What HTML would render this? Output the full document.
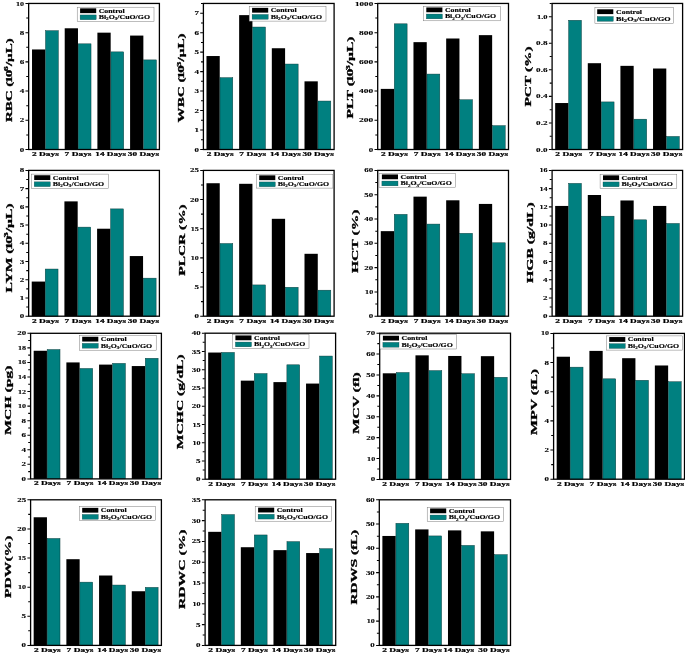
<!DOCTYPE html>
<html><head><meta charset="utf-8"><title>Hematology bar charts</title>
<style>
html,body{margin:0;padding:0;background:#fff;}
body{width:685px;height:654px;overflow:hidden;font-family:"Liberation Serif",serif;}
svg{display:block;}
svg text{font-family:"Liberation Serif",serif;font-weight:bold;fill:#000;}
</style></head><body>
<svg width="685" height="654" viewBox="0 0 685 654">
<rect width="685" height="654" fill="#fff"/>
<g>
<rect x="32.02" y="49.46" width="13.27" height="100.04" fill="#000"/>
<rect x="45.51" y="30.69" width="12.83" height="118.81" fill="#008080" stroke="#073535" stroke-width="0.45"/>
<rect x="64.71" y="28.28" width="13.27" height="121.22" fill="#000"/>
<rect x="78.2" y="43.83" width="12.83" height="105.67" fill="#008080" stroke="#073535" stroke-width="0.45"/>
<rect x="97.4" y="32.66" width="13.27" height="116.84" fill="#000"/>
<rect x="110.89" y="51.87" width="12.83" height="97.63" fill="#008080" stroke="#073535" stroke-width="0.45"/>
<rect x="130.09" y="35.58" width="13.27" height="113.92" fill="#000"/>
<rect x="143.58" y="59.9" width="12.83" height="89.6" fill="#008080" stroke="#073535" stroke-width="0.45"/>
<rect x="28.65" y="3.45" width="130.75" height="146.05" fill="none" stroke="#000" stroke-width="1.3"/>
<path d="M28.35 149.5h-2.9M28.35 134.9h-2.1M28.35 120.29h-2.9M28.35 105.69h-2.1M28.35 91.08h-2.9M28.35 76.47h-2.1M28.35 61.87h-2.9M28.35 47.27h-2.1M28.35 32.66h-2.9M28.35 18.05h-2.1M28.35 3.45h-2.9" stroke="#000" stroke-width="1.05" fill="none"/>
<rect x="77.2" y="7.2" width="76.8" height="14.3" fill="#fff" stroke="#6e6e6e" stroke-width="0.45"/>
<rect x="80.1" y="8.35" width="16.1" height="4.8" fill="#000"/>
<rect x="80.1" y="14.95" width="16.1" height="4.8" fill="#008080" stroke="#0b3b3b" stroke-width="0.3"/>
</g>
<g>
<rect x="206.47" y="56.03" width="13.27" height="93.47" fill="#000"/>
<rect x="219.96" y="77.67" width="12.83" height="71.83" fill="#008080" stroke="#073535" stroke-width="0.45"/>
<rect x="239.15" y="15.13" width="13.27" height="134.37" fill="#000"/>
<rect x="252.63" y="27.04" width="12.83" height="122.46" fill="#008080" stroke="#073535" stroke-width="0.45"/>
<rect x="271.82" y="48.24" width="13.27" height="101.26" fill="#000"/>
<rect x="285.31" y="64.04" width="12.83" height="85.46" fill="#008080" stroke="#073535" stroke-width="0.45"/>
<rect x="304.5" y="81.34" width="13.27" height="68.16" fill="#000"/>
<rect x="317.98" y="101.04" width="12.83" height="48.46" fill="#008080" stroke="#073535" stroke-width="0.45"/>
<rect x="203.4" y="3.45" width="130.7" height="146.05" fill="none" stroke="#000" stroke-width="1.3"/>
<path d="M203.1 149.5h-2.9M203.1 139.76h-2.1M203.1 130.03h-2.9M203.1 120.29h-2.1M203.1 110.55h-2.9M203.1 100.82h-2.1M203.1 91.08h-2.9M203.1 81.34h-2.1M203.1 71.61h-2.9M203.1 61.87h-2.1M203.1 52.13h-2.9M203.1 42.4h-2.1M203.1 32.66h-2.9M203.1 22.92h-2.1M203.1 13.19h-2.9M203.1 3.45h-2.1" stroke="#000" stroke-width="1.05" fill="none"/>
<rect x="249.2" y="6.7" width="76.8" height="14.4" fill="#fff" stroke="#6e6e6e" stroke-width="0.45"/>
<rect x="252.1" y="7.85" width="16.1" height="4.8" fill="#000"/>
<rect x="252.1" y="14.45" width="16.1" height="4.8" fill="#008080" stroke="#0b3b3b" stroke-width="0.3"/>
</g>
<g>
<rect x="380.77" y="88.89" width="13.28" height="60.61" fill="#000"/>
<rect x="394.27" y="23.82" width="12.84" height="125.68" fill="#008080" stroke="#073535" stroke-width="0.45"/>
<rect x="413.47" y="42.15" width="13.28" height="107.35" fill="#000"/>
<rect x="426.97" y="74.07" width="12.84" height="75.43" fill="#008080" stroke="#073535" stroke-width="0.45"/>
<rect x="446.17" y="38.5" width="13.28" height="111" fill="#000"/>
<rect x="459.67" y="99.77" width="12.84" height="49.73" fill="#008080" stroke="#073535" stroke-width="0.45"/>
<rect x="478.87" y="35.14" width="13.28" height="114.36" fill="#000"/>
<rect x="492.37" y="125.62" width="12.84" height="23.88" fill="#008080" stroke="#073535" stroke-width="0.45"/>
<rect x="377.7" y="3.45" width="130.8" height="146.05" fill="none" stroke="#000" stroke-width="1.3"/>
<path d="M377.4 149.5h-2.9M377.4 134.9h-2.1M377.4 120.29h-2.9M377.4 105.69h-2.1M377.4 91.08h-2.9M377.4 76.47h-2.1M377.4 61.87h-2.9M377.4 47.27h-2.1M377.4 32.66h-2.9M377.4 18.05h-2.1M377.4 3.45h-2.9" stroke="#000" stroke-width="1.05" fill="none"/>
<rect x="423.4" y="6.3" width="77" height="14.5" fill="#fff" stroke="#6e6e6e" stroke-width="0.45"/>
<rect x="426.3" y="7.45" width="16.1" height="4.8" fill="#000"/>
<rect x="426.3" y="14.05" width="16.1" height="4.8" fill="#008080" stroke="#0b3b3b" stroke-width="0.3"/>
</g>
<g>
<rect x="555.17" y="103.03" width="13.25" height="46.47" fill="#000"/>
<rect x="568.63" y="20.27" width="12.81" height="129.23" fill="#008080" stroke="#073535" stroke-width="0.45"/>
<rect x="587.79" y="63.2" width="13.25" height="86.3" fill="#000"/>
<rect x="601.26" y="101.92" width="12.81" height="47.58" fill="#008080" stroke="#073535" stroke-width="0.45"/>
<rect x="620.42" y="65.85" width="13.25" height="83.65" fill="#000"/>
<rect x="633.88" y="119.18" width="12.81" height="30.32" fill="#008080" stroke="#073535" stroke-width="0.45"/>
<rect x="653.04" y="68.51" width="13.25" height="80.99" fill="#000"/>
<rect x="666.51" y="136.44" width="12.81" height="13.06" fill="#008080" stroke="#073535" stroke-width="0.45"/>
<rect x="552.1" y="3.45" width="130.5" height="146.05" fill="none" stroke="#000" stroke-width="1.3"/>
<path d="M551.8 149.5h-2.9M551.8 136.22h-2.1M551.8 122.95h-2.9M551.8 109.67h-2.1M551.8 96.39h-2.9M551.8 83.11h-2.1M551.8 69.84h-2.9M551.8 56.56h-2.1M551.8 43.28h-2.9M551.8 30h-2.1M551.8 16.73h-2.9M551.8 3.45h-2.1" stroke="#000" stroke-width="1.05" fill="none"/>
<rect x="594.9" y="7.6" width="78.7" height="15.7" fill="#fff" stroke="#6e6e6e" stroke-width="0.45"/>
<rect x="597.2" y="9.3" width="16.1" height="4.8" fill="#000"/>
<rect x="597.2" y="16.5" width="16.1" height="4.8" fill="#008080" stroke="#0b3b3b" stroke-width="0.3"/>
</g>
<g>
<rect x="31.72" y="281.57" width="13.27" height="34.63" fill="#000"/>
<rect x="45.21" y="269.04" width="12.83" height="47.16" fill="#008080" stroke="#073535" stroke-width="0.45"/>
<rect x="64.41" y="201.38" width="13.27" height="114.82" fill="#000"/>
<rect x="77.9" y="227.12" width="12.83" height="89.08" fill="#008080" stroke="#073535" stroke-width="0.45"/>
<rect x="97.1" y="228.72" width="13.27" height="87.48" fill="#000"/>
<rect x="110.59" y="208.89" width="12.83" height="107.31" fill="#008080" stroke="#073535" stroke-width="0.45"/>
<rect x="129.79" y="256.06" width="13.27" height="60.14" fill="#000"/>
<rect x="143.28" y="278.15" width="12.83" height="38.05" fill="#008080" stroke="#073535" stroke-width="0.45"/>
<rect x="28.65" y="170.4" width="130.75" height="145.8" fill="none" stroke="#000" stroke-width="1.3"/>
<path d="M28.35 316.2h-2.9M28.35 307.09h-2.1M28.35 297.97h-2.9M28.35 288.86h-2.1M28.35 279.75h-2.9M28.35 270.64h-2.1M28.35 261.52h-2.9M28.35 252.41h-2.1M28.35 243.3h-2.9M28.35 234.19h-2.1M28.35 225.07h-2.9M28.35 215.96h-2.1M28.35 206.85h-2.9M28.35 197.74h-2.1M28.35 188.62h-2.9M28.35 179.51h-2.1M28.35 170.4h-2.9" stroke="#000" stroke-width="1.05" fill="none"/>
<rect x="31.3" y="174.1" width="77" height="14.2" fill="#fff" stroke="#6e6e6e" stroke-width="0.45"/>
<rect x="34.2" y="175.25" width="16.1" height="4.8" fill="#000"/>
<rect x="34.2" y="181.85" width="16.1" height="4.8" fill="#008080" stroke="#0b3b3b" stroke-width="0.3"/>
</g>
<g>
<rect x="206.47" y="183.23" width="13.27" height="132.97" fill="#000"/>
<rect x="219.96" y="243.52" width="12.83" height="72.68" fill="#008080" stroke="#073535" stroke-width="0.45"/>
<rect x="239.15" y="183.81" width="13.27" height="132.39" fill="#000"/>
<rect x="252.63" y="284.93" width="12.83" height="31.27" fill="#008080" stroke="#073535" stroke-width="0.45"/>
<rect x="271.82" y="218.81" width="13.27" height="97.39" fill="#000"/>
<rect x="285.31" y="287.26" width="12.83" height="28.94" fill="#008080" stroke="#073535" stroke-width="0.45"/>
<rect x="304.5" y="253.8" width="13.27" height="62.4" fill="#000"/>
<rect x="317.98" y="290.18" width="12.83" height="26.02" fill="#008080" stroke="#073535" stroke-width="0.45"/>
<rect x="203.4" y="170.4" width="130.7" height="145.8" fill="none" stroke="#000" stroke-width="1.3"/>
<path d="M203.1 316.2h-2.9M203.1 301.62h-2.1M203.1 287.04h-2.9M203.1 272.46h-2.1M203.1 257.88h-2.9M203.1 243.3h-2.1M203.1 228.72h-2.9M203.1 214.14h-2.1M203.1 199.56h-2.9M203.1 184.98h-2.1M203.1 170.4h-2.9" stroke="#000" stroke-width="1.05" fill="none"/>
<rect x="256.3" y="174.2" width="76.6" height="13.9" fill="#fff" stroke="#6e6e6e" stroke-width="0.45"/>
<rect x="259.2" y="175.35" width="16.1" height="4.8" fill="#000"/>
<rect x="259.2" y="181.95" width="16.1" height="4.8" fill="#008080" stroke="#0b3b3b" stroke-width="0.3"/>
</g>
<g>
<rect x="380.77" y="231.15" width="13.28" height="85.05" fill="#000"/>
<rect x="394.27" y="214.36" width="12.84" height="101.84" fill="#008080" stroke="#073535" stroke-width="0.45"/>
<rect x="413.47" y="196.64" width="13.28" height="119.56" fill="#000"/>
<rect x="426.97" y="224.08" width="12.84" height="92.12" fill="#008080" stroke="#073535" stroke-width="0.45"/>
<rect x="446.17" y="200.29" width="13.28" height="115.91" fill="#000"/>
<rect x="459.67" y="233.31" width="12.84" height="82.89" fill="#008080" stroke="#073535" stroke-width="0.45"/>
<rect x="478.87" y="203.93" width="13.28" height="112.27" fill="#000"/>
<rect x="492.37" y="242.79" width="12.84" height="73.41" fill="#008080" stroke="#073535" stroke-width="0.45"/>
<rect x="377.7" y="170.4" width="130.8" height="145.8" fill="none" stroke="#000" stroke-width="1.3"/>
<path d="M377.4 316.2h-2.9M377.4 304.05h-2.1M377.4 291.9h-2.9M377.4 279.75h-2.1M377.4 267.6h-2.9M377.4 255.45h-2.1M377.4 243.3h-2.9M377.4 231.15h-2.1M377.4 219h-2.9M377.4 206.85h-2.1M377.4 194.7h-2.9M377.4 182.55h-2.1M377.4 170.4h-2.9" stroke="#000" stroke-width="1.05" fill="none"/>
<rect x="379" y="173.3" width="76.3" height="13.9" fill="#fff" stroke="#6e6e6e" stroke-width="0.45"/>
<rect x="381.9" y="174.45" width="16.1" height="4.8" fill="#000"/>
<rect x="381.9" y="181.05" width="16.1" height="4.8" fill="#008080" stroke="#0b3b3b" stroke-width="0.3"/>
</g>
<g>
<rect x="555.17" y="205.94" width="13.25" height="110.26" fill="#000"/>
<rect x="568.63" y="183.38" width="12.81" height="132.82" fill="#008080" stroke="#073535" stroke-width="0.45"/>
<rect x="587.79" y="195" width="13.25" height="121.2" fill="#000"/>
<rect x="601.26" y="216.18" width="12.81" height="100.02" fill="#008080" stroke="#073535" stroke-width="0.45"/>
<rect x="620.42" y="200.47" width="13.25" height="115.73" fill="#000"/>
<rect x="633.88" y="219.83" width="12.81" height="96.37" fill="#008080" stroke="#073535" stroke-width="0.45"/>
<rect x="653.04" y="205.94" width="13.25" height="110.26" fill="#000"/>
<rect x="666.51" y="223.47" width="12.81" height="92.73" fill="#008080" stroke="#073535" stroke-width="0.45"/>
<rect x="552.1" y="170.4" width="130.5" height="145.8" fill="none" stroke="#000" stroke-width="1.3"/>
<path d="M551.8 316.2h-2.9M551.8 307.09h-2.1M551.8 297.97h-2.9M551.8 288.86h-2.1M551.8 279.75h-2.9M551.8 270.64h-2.1M551.8 261.52h-2.9M551.8 252.41h-2.1M551.8 243.3h-2.9M551.8 234.19h-2.1M551.8 225.07h-2.9M551.8 215.96h-2.1M551.8 206.85h-2.9M551.8 197.74h-2.1M551.8 188.62h-2.9M551.8 179.51h-2.1M551.8 170.4h-2.9" stroke="#000" stroke-width="1.05" fill="none"/>
<rect x="600.1" y="174.2" width="76.7" height="14.2" fill="#fff" stroke="#6e6e6e" stroke-width="0.45"/>
<rect x="603" y="175.35" width="16.1" height="4.8" fill="#000"/>
<rect x="603" y="181.95" width="16.1" height="4.8" fill="#008080" stroke="#0b3b3b" stroke-width="0.3"/>
</g>
<g>
<rect x="33.67" y="350.77" width="13.28" height="128.13" fill="#000"/>
<rect x="47.17" y="349.54" width="12.84" height="129.36" fill="#008080" stroke="#073535" stroke-width="0.45"/>
<rect x="66.37" y="362.42" width="13.28" height="116.48" fill="#000"/>
<rect x="79.87" y="368.46" width="12.84" height="110.44" fill="#008080" stroke="#073535" stroke-width="0.45"/>
<rect x="99.07" y="364.6" width="13.28" height="114.3" fill="#000"/>
<rect x="112.57" y="363.37" width="12.84" height="115.53" fill="#008080" stroke="#073535" stroke-width="0.45"/>
<rect x="131.77" y="366.06" width="13.28" height="112.84" fill="#000"/>
<rect x="145.27" y="358.27" width="12.84" height="120.63" fill="#008080" stroke="#073535" stroke-width="0.45"/>
<rect x="30.6" y="333.3" width="130.8" height="145.6" fill="none" stroke="#000" stroke-width="1.3"/>
<path d="M30.3 478.9h-2.9M30.3 471.62h-2.1M30.3 464.34h-2.9M30.3 457.06h-2.1M30.3 449.78h-2.9M30.3 442.5h-2.1M30.3 435.22h-2.9M30.3 427.94h-2.1M30.3 420.66h-2.9M30.3 413.38h-2.1M30.3 406.1h-2.9M30.3 398.82h-2.1M30.3 391.54h-2.9M30.3 384.26h-2.1M30.3 376.98h-2.9M30.3 369.7h-2.1M30.3 362.42h-2.9M30.3 355.14h-2.1M30.3 347.86h-2.9M30.3 340.58h-2.1M30.3 333.3h-2.9" stroke="#000" stroke-width="1.05" fill="none"/>
<rect x="79.3" y="335.6" width="76.9" height="14.6" fill="#fff" stroke="#6e6e6e" stroke-width="0.45"/>
<rect x="82.2" y="336.75" width="16.1" height="4.8" fill="#000"/>
<rect x="82.2" y="343.35" width="16.1" height="4.8" fill="#008080" stroke="#0b3b3b" stroke-width="0.3"/>
</g>
<g>
<rect x="208.17" y="352.54" width="13.25" height="126.66" fill="#000"/>
<rect x="221.63" y="352.4" width="12.81" height="126.8" fill="#008080" stroke="#073535" stroke-width="0.45"/>
<rect x="240.79" y="380.65" width="13.25" height="98.55" fill="#000"/>
<rect x="254.26" y="373.57" width="12.81" height="105.63" fill="#008080" stroke="#073535" stroke-width="0.45"/>
<rect x="273.42" y="382.11" width="13.25" height="97.09" fill="#000"/>
<rect x="286.88" y="364.81" width="12.81" height="114.39" fill="#008080" stroke="#073535" stroke-width="0.45"/>
<rect x="306.04" y="383.57" width="13.25" height="95.63" fill="#000"/>
<rect x="319.51" y="356.05" width="12.81" height="123.15" fill="#008080" stroke="#073535" stroke-width="0.45"/>
<rect x="205.1" y="333.2" width="130.5" height="146" fill="none" stroke="#000" stroke-width="1.3"/>
<path d="M204.8 479.2h-2.9M204.8 470.07h-2.1M204.8 460.95h-2.9M204.8 451.82h-2.1M204.8 442.7h-2.9M204.8 433.57h-2.1M204.8 424.45h-2.9M204.8 415.32h-2.1M204.8 406.2h-2.9M204.8 397.07h-2.1M204.8 387.95h-2.9M204.8 378.82h-2.1M204.8 369.7h-2.9M204.8 360.57h-2.1M204.8 351.45h-2.9M204.8 342.32h-2.1M204.8 333.2h-2.9" stroke="#000" stroke-width="1.05" fill="none"/>
<rect x="232.5" y="334.3" width="76.5" height="14.4" fill="#fff" stroke="#6e6e6e" stroke-width="0.45"/>
<rect x="235.4" y="335.45" width="16.1" height="4.8" fill="#000"/>
<rect x="235.4" y="342.05" width="16.1" height="4.8" fill="#008080" stroke="#0b3b3b" stroke-width="0.3"/>
</g>
<g>
<rect x="382.77" y="373.3" width="13.28" height="106.1" fill="#000"/>
<rect x="396.27" y="372.48" width="12.84" height="106.92" fill="#008080" stroke="#073535" stroke-width="0.45"/>
<rect x="415.47" y="355.34" width="13.28" height="124.06" fill="#000"/>
<rect x="428.97" y="370.6" width="12.84" height="108.8" fill="#008080" stroke="#073535" stroke-width="0.45"/>
<rect x="448.17" y="355.97" width="13.28" height="123.43" fill="#000"/>
<rect x="461.67" y="373.73" width="12.84" height="105.67" fill="#008080" stroke="#073535" stroke-width="0.45"/>
<rect x="480.87" y="356.17" width="13.28" height="123.23" fill="#000"/>
<rect x="494.37" y="377.28" width="12.84" height="102.12" fill="#008080" stroke="#073535" stroke-width="0.45"/>
<rect x="379.7" y="333.2" width="130.8" height="146.2" fill="none" stroke="#000" stroke-width="1.3"/>
<path d="M379.4 479.4h-2.9M379.4 468.96h-2.1M379.4 458.51h-2.9M379.4 448.07h-2.1M379.4 437.63h-2.9M379.4 427.19h-2.1M379.4 416.74h-2.9M379.4 406.3h-2.1M379.4 395.86h-2.9M379.4 385.41h-2.1M379.4 374.97h-2.9M379.4 364.53h-2.1M379.4 354.09h-2.9M379.4 343.64h-2.1M379.4 333.2h-2.9" stroke="#000" stroke-width="1.05" fill="none"/>
<rect x="380" y="334.6" width="76.7" height="14.4" fill="#fff" stroke="#6e6e6e" stroke-width="0.45"/>
<rect x="382.9" y="335.75" width="16.1" height="4.8" fill="#000"/>
<rect x="382.9" y="342.35" width="16.1" height="4.8" fill="#008080" stroke="#0b3b3b" stroke-width="0.3"/>
</g>
<g>
<rect x="556.68" y="356.73" width="13.29" height="122.47" fill="#000"/>
<rect x="570.18" y="367.15" width="12.85" height="112.05" fill="#008080" stroke="#073535" stroke-width="0.45"/>
<rect x="589.4" y="350.9" width="13.29" height="128.3" fill="#000"/>
<rect x="602.91" y="378.82" width="12.85" height="100.38" fill="#008080" stroke="#073535" stroke-width="0.45"/>
<rect x="622.13" y="358.19" width="13.29" height="121.01" fill="#000"/>
<rect x="635.63" y="380.28" width="12.85" height="98.92" fill="#008080" stroke="#073535" stroke-width="0.45"/>
<rect x="654.85" y="365.48" width="13.29" height="113.72" fill="#000"/>
<rect x="668.36" y="381.73" width="12.85" height="97.47" fill="#008080" stroke="#073535" stroke-width="0.45"/>
<rect x="553.6" y="333.4" width="130.9" height="145.8" fill="none" stroke="#000" stroke-width="1.3"/>
<path d="M553.3 479.2h-2.9M553.3 464.62h-2.1M553.3 450.04h-2.9M553.3 435.46h-2.1M553.3 420.88h-2.9M553.3 406.3h-2.1M553.3 391.72h-2.9M553.3 377.14h-2.1M553.3 362.56h-2.9M553.3 347.98h-2.1M553.3 333.4h-2.9" stroke="#000" stroke-width="1.05" fill="none"/>
<rect x="606.3" y="335.9" width="76.2" height="14.2" fill="#fff" stroke="#6e6e6e" stroke-width="0.45"/>
<rect x="609.2" y="337.05" width="16.1" height="4.8" fill="#000"/>
<rect x="609.2" y="343.65" width="16.1" height="4.8" fill="#008080" stroke="#0b3b3b" stroke-width="0.3"/>
</g>
<g>
<rect x="33.67" y="517.27" width="13.28" height="128.13" fill="#000"/>
<rect x="47.17" y="538.46" width="12.84" height="106.94" fill="#008080" stroke="#073535" stroke-width="0.45"/>
<rect x="66.37" y="559.2" width="13.28" height="86.2" fill="#000"/>
<rect x="79.87" y="582.14" width="12.84" height="63.26" fill="#008080" stroke="#073535" stroke-width="0.45"/>
<rect x="99.07" y="575.51" width="13.28" height="69.89" fill="#000"/>
<rect x="112.57" y="585.05" width="12.84" height="60.35" fill="#008080" stroke="#073535" stroke-width="0.45"/>
<rect x="131.77" y="591.24" width="13.28" height="54.16" fill="#000"/>
<rect x="145.27" y="587.38" width="12.84" height="58.02" fill="#008080" stroke="#073535" stroke-width="0.45"/>
<rect x="30.6" y="499.8" width="130.8" height="145.6" fill="none" stroke="#000" stroke-width="1.3"/>
<path d="M30.3 645.4h-2.9M30.3 630.84h-2.1M30.3 616.28h-2.9M30.3 601.72h-2.1M30.3 587.16h-2.9M30.3 572.6h-2.1M30.3 558.04h-2.9M30.3 543.48h-2.1M30.3 528.92h-2.9M30.3 514.36h-2.1M30.3 499.8h-2.9" stroke="#000" stroke-width="1.05" fill="none"/>
<rect x="79.3" y="506.7" width="76.3" height="13.8" fill="#fff" stroke="#6e6e6e" stroke-width="0.45"/>
<rect x="82.2" y="507.85" width="16.1" height="4.8" fill="#000"/>
<rect x="82.2" y="514.45" width="16.1" height="4.8" fill="#008080" stroke="#0b3b3b" stroke-width="0.3"/>
</g>
<g>
<rect x="208.17" y="531.83" width="13.26" height="113.57" fill="#000"/>
<rect x="221.64" y="514.58" width="12.82" height="130.82" fill="#008080" stroke="#073535" stroke-width="0.45"/>
<rect x="240.82" y="547.22" width="13.26" height="98.18" fill="#000"/>
<rect x="254.29" y="534.96" width="12.82" height="110.44" fill="#008080" stroke="#073535" stroke-width="0.45"/>
<rect x="273.47" y="550.14" width="13.26" height="95.26" fill="#000"/>
<rect x="286.95" y="541.62" width="12.82" height="103.78" fill="#008080" stroke="#073535" stroke-width="0.45"/>
<rect x="306.12" y="553.05" width="13.26" height="92.35" fill="#000"/>
<rect x="319.6" y="548.69" width="12.82" height="96.71" fill="#008080" stroke="#073535" stroke-width="0.45"/>
<rect x="205.1" y="499.8" width="130.6" height="145.6" fill="none" stroke="#000" stroke-width="1.3"/>
<path d="M204.8 645.4h-2.9M204.8 635h-2.1M204.8 624.6h-2.9M204.8 614.2h-2.1M204.8 603.8h-2.9M204.8 593.4h-2.1M204.8 583h-2.9M204.8 572.6h-2.1M204.8 562.2h-2.9M204.8 551.8h-2.1M204.8 541.4h-2.9M204.8 531h-2.1M204.8 520.6h-2.9M204.8 510.2h-2.1M204.8 499.8h-2.9" stroke="#000" stroke-width="1.05" fill="none"/>
<rect x="255.2" y="506.5" width="76.4" height="14.7" fill="#fff" stroke="#6e6e6e" stroke-width="0.45"/>
<rect x="258.1" y="507.65" width="16.1" height="4.8" fill="#000"/>
<rect x="258.1" y="514.25" width="16.1" height="4.8" fill="#008080" stroke="#0b3b3b" stroke-width="0.3"/>
</g>
<g>
<rect x="382.38" y="535.96" width="13.32" height="109.44" fill="#000"/>
<rect x="395.92" y="523.32" width="12.88" height="122.08" fill="#008080" stroke="#073535" stroke-width="0.45"/>
<rect x="415.18" y="529.41" width="13.32" height="115.99" fill="#000"/>
<rect x="428.72" y="535.93" width="12.88" height="109.47" fill="#008080" stroke="#073535" stroke-width="0.45"/>
<rect x="447.98" y="530.38" width="13.32" height="115.02" fill="#000"/>
<rect x="461.52" y="545.4" width="12.88" height="100" fill="#008080" stroke="#073535" stroke-width="0.45"/>
<rect x="480.78" y="531.35" width="13.32" height="114.05" fill="#000"/>
<rect x="494.32" y="554.62" width="12.88" height="90.78" fill="#008080" stroke="#073535" stroke-width="0.45"/>
<rect x="379.3" y="499.8" width="131.2" height="145.6" fill="none" stroke="#000" stroke-width="1.3"/>
<path d="M379 645.4h-2.9M379 633.27h-2.1M379 621.13h-2.9M379 609h-2.1M379 596.87h-2.9M379 584.73h-2.1M379 572.6h-2.9M379 560.47h-2.1M379 548.33h-2.9M379 536.2h-2.1M379 524.07h-2.9M379 511.93h-2.1M379 499.8h-2.9" stroke="#000" stroke-width="1.05" fill="none"/>
<rect x="427.2" y="507.3" width="76.2" height="14.4" fill="#fff" stroke="#6e6e6e" stroke-width="0.45"/>
<rect x="430.1" y="508.45" width="16.1" height="4.8" fill="#000"/>
<rect x="430.1" y="515.05" width="16.1" height="4.8" fill="#008080" stroke="#0b3b3b" stroke-width="0.3"/>
</g>
<g opacity="0.999" stroke="#000" stroke-width="0.22" stroke-linejoin="round">
<text x="24.15" y="151.55" font-size="5.8" text-anchor="end" textLength="4.5" lengthAdjust="spacingAndGlyphs" stroke-width="0.12">0</text>
<text x="24.15" y="122.34" font-size="5.8" text-anchor="end" textLength="4.5" lengthAdjust="spacingAndGlyphs" stroke-width="0.12">2</text>
<text x="24.15" y="93.13" font-size="5.8" text-anchor="end" textLength="4.5" lengthAdjust="spacingAndGlyphs" stroke-width="0.12">4</text>
<text x="24.15" y="63.92" font-size="5.8" text-anchor="end" textLength="4.5" lengthAdjust="spacingAndGlyphs" stroke-width="0.12">6</text>
<text x="24.15" y="34.71" font-size="5.8" text-anchor="end" textLength="4.5" lengthAdjust="spacingAndGlyphs" stroke-width="0.12">8</text>
<text x="24.15" y="5.5" font-size="5.8" text-anchor="end" textLength="8.1" lengthAdjust="spacingAndGlyphs" stroke-width="0.12">10</text>
<text x="45.39" y="156" font-size="5.9" text-anchor="middle" textLength="26.9" lengthAdjust="spacingAndGlyphs">2 Days</text>
<text x="78.08" y="156" font-size="5.9" text-anchor="middle" textLength="26.9" lengthAdjust="spacingAndGlyphs">7 Days</text>
<text x="110.77" y="156" font-size="5.9" text-anchor="middle" textLength="30.9" lengthAdjust="spacingAndGlyphs">14 Days</text>
<text x="143.46" y="156" font-size="5.9" text-anchor="middle" textLength="31.4" lengthAdjust="spacingAndGlyphs">30 Days</text>
<text x="98.7" y="12.75" font-size="5.2" text-anchor="start" textLength="25.9" lengthAdjust="spacingAndGlyphs" stroke-width="0.15">Control</text>
<text x="98.7" y="19.35" font-size="5.2" text-anchor="start" textLength="51.3" lengthAdjust="spacingAndGlyphs" stroke-width="0.15">Bi<tspan font-size="3.4" dy="1.1">2</tspan><tspan dy="-1.1">O</tspan><tspan font-size="3.4" dy="1.1">3</tspan><tspan dy="-1.1">/CuO/GO</tspan></text>
<text x="0" y="0" font-size="9.2" text-anchor="middle" textLength="83.83" lengthAdjust="spacingAndGlyphs" transform="translate(11.7,80.2) rotate(-90)" stroke-width="0.32">RBC <tspan letter-spacing="-0.9">(10</tspan><tspan font-size="6.2" dy="-3.7">6</tspan><tspan dy="3.7">/µL)</tspan></text>
<text x="198.9" y="151.55" font-size="5.8" text-anchor="end" textLength="4.5" lengthAdjust="spacingAndGlyphs" stroke-width="0.12">0</text>
<text x="198.9" y="132.08" font-size="5.8" text-anchor="end" textLength="4.5" lengthAdjust="spacingAndGlyphs" stroke-width="0.12">1</text>
<text x="198.9" y="112.6" font-size="5.8" text-anchor="end" textLength="4.5" lengthAdjust="spacingAndGlyphs" stroke-width="0.12">2</text>
<text x="198.9" y="93.13" font-size="5.8" text-anchor="end" textLength="4.5" lengthAdjust="spacingAndGlyphs" stroke-width="0.12">3</text>
<text x="198.9" y="73.66" font-size="5.8" text-anchor="end" textLength="4.5" lengthAdjust="spacingAndGlyphs" stroke-width="0.12">4</text>
<text x="198.9" y="54.18" font-size="5.8" text-anchor="end" textLength="4.5" lengthAdjust="spacingAndGlyphs" stroke-width="0.12">5</text>
<text x="198.9" y="34.71" font-size="5.8" text-anchor="end" textLength="4.5" lengthAdjust="spacingAndGlyphs" stroke-width="0.12">6</text>
<text x="198.9" y="15.24" font-size="5.8" text-anchor="end" textLength="4.5" lengthAdjust="spacingAndGlyphs" stroke-width="0.12">7</text>
<text x="220.14" y="156" font-size="5.9" text-anchor="middle" textLength="26.9" lengthAdjust="spacingAndGlyphs">2 Days</text>
<text x="252.81" y="156" font-size="5.9" text-anchor="middle" textLength="26.9" lengthAdjust="spacingAndGlyphs">7 Days</text>
<text x="285.49" y="156" font-size="5.9" text-anchor="middle" textLength="30.9" lengthAdjust="spacingAndGlyphs">14 Days</text>
<text x="318.16" y="156" font-size="5.9" text-anchor="middle" textLength="31.4" lengthAdjust="spacingAndGlyphs">30 Days</text>
<text x="270.7" y="12.25" font-size="5.2" text-anchor="start" textLength="25.9" lengthAdjust="spacingAndGlyphs" stroke-width="0.15">Control</text>
<text x="270.7" y="18.85" font-size="5.2" text-anchor="start" textLength="51.3" lengthAdjust="spacingAndGlyphs" stroke-width="0.15">Bi<tspan font-size="3.4" dy="1.1">2</tspan><tspan dy="-1.1">O</tspan><tspan font-size="3.4" dy="1.1">3</tspan><tspan dy="-1.1">/CuO/GO</tspan></text>
<text x="0" y="0" font-size="9.2" text-anchor="middle" textLength="89.18" lengthAdjust="spacingAndGlyphs" transform="translate(184.2,77.95) rotate(-90)" stroke-width="0.32">WBC <tspan letter-spacing="-0.9">(10</tspan><tspan font-size="6.2" dy="-3.7">3</tspan><tspan dy="3.7">/µL)</tspan></text>
<text x="373.2" y="151.55" font-size="5.8" text-anchor="end" textLength="4.5" lengthAdjust="spacingAndGlyphs" stroke-width="0.12">0</text>
<text x="373.2" y="122.34" font-size="5.8" text-anchor="end" textLength="14.25" lengthAdjust="spacingAndGlyphs" stroke-width="0.12">200</text>
<text x="373.2" y="93.13" font-size="5.8" text-anchor="end" textLength="14.25" lengthAdjust="spacingAndGlyphs" stroke-width="0.12">400</text>
<text x="373.2" y="63.92" font-size="5.8" text-anchor="end" textLength="14.25" lengthAdjust="spacingAndGlyphs" stroke-width="0.12">600</text>
<text x="373.2" y="34.71" font-size="5.8" text-anchor="end" textLength="14.25" lengthAdjust="spacingAndGlyphs" stroke-width="0.12">800</text>
<text x="373.2" y="5.5" font-size="5.8" text-anchor="end" textLength="18.2" lengthAdjust="spacingAndGlyphs" stroke-width="0.12">1000</text>
<text x="394.45" y="156" font-size="5.9" text-anchor="middle" textLength="26.9" lengthAdjust="spacingAndGlyphs">2 Days</text>
<text x="427.15" y="156" font-size="5.9" text-anchor="middle" textLength="26.9" lengthAdjust="spacingAndGlyphs">7 Days</text>
<text x="459.85" y="156" font-size="5.9" text-anchor="middle" textLength="30.9" lengthAdjust="spacingAndGlyphs">14 Days</text>
<text x="492.55" y="156" font-size="5.9" text-anchor="middle" textLength="31.4" lengthAdjust="spacingAndGlyphs">30 Days</text>
<text x="444.9" y="11.85" font-size="5.2" text-anchor="start" textLength="25.9" lengthAdjust="spacingAndGlyphs" stroke-width="0.15">Control</text>
<text x="444.9" y="18.45" font-size="5.2" text-anchor="start" textLength="51.3" lengthAdjust="spacingAndGlyphs" stroke-width="0.15">Bi<tspan font-size="3.4" dy="1.1">2</tspan><tspan dy="-1.1">O</tspan><tspan font-size="3.4" dy="1.1">3</tspan><tspan dy="-1.1">/CuO/GO</tspan></text>
<text x="0" y="0" font-size="9.2" text-anchor="middle" textLength="81.91" lengthAdjust="spacingAndGlyphs" transform="translate(353.4,77.55) rotate(-90)" stroke-width="0.32">PLT <tspan letter-spacing="-0.9">(10</tspan><tspan font-size="6.2" dy="-3.7">3</tspan><tspan dy="3.7">/µL)</tspan></text>
<text x="547.6" y="151.55" font-size="5.8" text-anchor="end" textLength="11.5" lengthAdjust="spacingAndGlyphs" stroke-width="0.12">0.0</text>
<text x="547.6" y="125" font-size="5.8" text-anchor="end" textLength="11.5" lengthAdjust="spacingAndGlyphs" stroke-width="0.12">0.2</text>
<text x="547.6" y="98.44" font-size="5.8" text-anchor="end" textLength="11.5" lengthAdjust="spacingAndGlyphs" stroke-width="0.12">0.4</text>
<text x="547.6" y="71.89" font-size="5.8" text-anchor="end" textLength="11.5" lengthAdjust="spacingAndGlyphs" stroke-width="0.12">0.6</text>
<text x="547.6" y="45.33" font-size="5.8" text-anchor="end" textLength="11.5" lengthAdjust="spacingAndGlyphs" stroke-width="0.12">0.8</text>
<text x="547.6" y="18.78" font-size="5.8" text-anchor="end" textLength="10.7" lengthAdjust="spacingAndGlyphs" stroke-width="0.12">1.0</text>
<text x="568.81" y="156" font-size="5.9" text-anchor="middle" textLength="26.9" lengthAdjust="spacingAndGlyphs">2 Days</text>
<text x="602.44" y="156" font-size="5.9" text-anchor="middle" textLength="26.9" lengthAdjust="spacingAndGlyphs">7 Days</text>
<text x="634.06" y="156" font-size="5.9" text-anchor="middle" textLength="30.9" lengthAdjust="spacingAndGlyphs">14 Days</text>
<text x="666.69" y="156" font-size="5.9" text-anchor="middle" textLength="31.4" lengthAdjust="spacingAndGlyphs">30 Days</text>
<text x="616.1" y="13.9" font-size="5.2" text-anchor="start" textLength="25.9" lengthAdjust="spacingAndGlyphs" stroke-width="0.15">Control</text>
<text x="616.1" y="20.5" font-size="5.2" text-anchor="start" textLength="54.6" lengthAdjust="spacingAndGlyphs" stroke-width="0.15">Bi<tspan font-size="4.3" dy="1.3">2</tspan><tspan dy="-1.3">O</tspan><tspan font-size="4.3" dy="1.3">3</tspan><tspan dy="-1.3">/CuO/GO</tspan></text>
<text x="0" y="0" font-size="9.2" text-anchor="middle" textLength="60.2" lengthAdjust="spacingAndGlyphs" transform="translate(530.7,76.5) rotate(-90)" stroke-width="0.32">PCT (%)</text>
<text x="24.15" y="318.25" font-size="5.8" text-anchor="end" textLength="4.5" lengthAdjust="spacingAndGlyphs" stroke-width="0.12">0</text>
<text x="24.15" y="300.02" font-size="5.8" text-anchor="end" textLength="4.5" lengthAdjust="spacingAndGlyphs" stroke-width="0.12">1</text>
<text x="24.15" y="281.8" font-size="5.8" text-anchor="end" textLength="4.5" lengthAdjust="spacingAndGlyphs" stroke-width="0.12">2</text>
<text x="24.15" y="263.57" font-size="5.8" text-anchor="end" textLength="4.5" lengthAdjust="spacingAndGlyphs" stroke-width="0.12">3</text>
<text x="24.15" y="245.35" font-size="5.8" text-anchor="end" textLength="4.5" lengthAdjust="spacingAndGlyphs" stroke-width="0.12">4</text>
<text x="24.15" y="227.12" font-size="5.8" text-anchor="end" textLength="4.5" lengthAdjust="spacingAndGlyphs" stroke-width="0.12">5</text>
<text x="24.15" y="208.9" font-size="5.8" text-anchor="end" textLength="4.5" lengthAdjust="spacingAndGlyphs" stroke-width="0.12">6</text>
<text x="24.15" y="190.68" font-size="5.8" text-anchor="end" textLength="4.5" lengthAdjust="spacingAndGlyphs" stroke-width="0.12">7</text>
<text x="24.15" y="172.45" font-size="5.8" text-anchor="end" textLength="4.5" lengthAdjust="spacingAndGlyphs" stroke-width="0.12">8</text>
<text x="45.39" y="322.7" font-size="5.9" text-anchor="middle" textLength="26.9" lengthAdjust="spacingAndGlyphs">2 Days</text>
<text x="78.08" y="322.7" font-size="5.9" text-anchor="middle" textLength="26.9" lengthAdjust="spacingAndGlyphs">7 Days</text>
<text x="110.77" y="322.7" font-size="5.9" text-anchor="middle" textLength="30.9" lengthAdjust="spacingAndGlyphs">14 Days</text>
<text x="143.46" y="322.7" font-size="5.9" text-anchor="middle" textLength="31.4" lengthAdjust="spacingAndGlyphs">30 Days</text>
<text x="52.8" y="179.65" font-size="5.2" text-anchor="start" textLength="25.9" lengthAdjust="spacingAndGlyphs" stroke-width="0.15">Control</text>
<text x="52.8" y="186.25" font-size="5.2" text-anchor="start" textLength="51.3" lengthAdjust="spacingAndGlyphs" stroke-width="0.15">Bi<tspan font-size="3.4" dy="1.1">2</tspan><tspan dy="-1.1">O</tspan><tspan font-size="3.4" dy="1.1">3</tspan><tspan dy="-1.1">/CuO/GO</tspan></text>
<text x="0" y="0" font-size="9.2" text-anchor="middle" textLength="89.18" lengthAdjust="spacingAndGlyphs" transform="translate(12.1,247.95) rotate(-90)" stroke-width="0.32">LYM <tspan letter-spacing="-0.9">(10</tspan><tspan font-size="6.2" dy="-3.7">3</tspan><tspan dy="3.7">/µL)</tspan></text>
<text x="198.9" y="318.25" font-size="5.8" text-anchor="end" textLength="4.5" lengthAdjust="spacingAndGlyphs" stroke-width="0.12">0</text>
<text x="198.9" y="289.09" font-size="5.8" text-anchor="end" textLength="4.5" lengthAdjust="spacingAndGlyphs" stroke-width="0.12">5</text>
<text x="198.9" y="259.93" font-size="5.8" text-anchor="end" textLength="8.1" lengthAdjust="spacingAndGlyphs" stroke-width="0.12">10</text>
<text x="198.9" y="230.77" font-size="5.8" text-anchor="end" textLength="8.1" lengthAdjust="spacingAndGlyphs" stroke-width="0.12">15</text>
<text x="198.9" y="201.61" font-size="5.8" text-anchor="end" textLength="8.9" lengthAdjust="spacingAndGlyphs" stroke-width="0.12">20</text>
<text x="198.9" y="172.45" font-size="5.8" text-anchor="end" textLength="8.9" lengthAdjust="spacingAndGlyphs" stroke-width="0.12">25</text>
<text x="220.14" y="322.7" font-size="5.9" text-anchor="middle" textLength="26.9" lengthAdjust="spacingAndGlyphs">2 Days</text>
<text x="252.81" y="322.7" font-size="5.9" text-anchor="middle" textLength="26.9" lengthAdjust="spacingAndGlyphs">7 Days</text>
<text x="285.49" y="322.7" font-size="5.9" text-anchor="middle" textLength="30.9" lengthAdjust="spacingAndGlyphs">14 Days</text>
<text x="318.16" y="322.7" font-size="5.9" text-anchor="middle" textLength="31.4" lengthAdjust="spacingAndGlyphs">30 Days</text>
<text x="277.8" y="179.75" font-size="5.2" text-anchor="start" textLength="25.9" lengthAdjust="spacingAndGlyphs" stroke-width="0.15">Control</text>
<text x="277.8" y="186.35" font-size="5.2" text-anchor="start" textLength="51.3" lengthAdjust="spacingAndGlyphs" stroke-width="0.15">Bi<tspan font-size="3.4" dy="1.1">2</tspan><tspan dy="-1.1">O</tspan><tspan font-size="3.4" dy="1.1">3</tspan><tspan dy="-1.1">/CuO/GO</tspan></text>
<text x="0" y="0" font-size="9.2" text-anchor="middle" textLength="71.41" lengthAdjust="spacingAndGlyphs" transform="translate(185.3,239.95) rotate(-90)" stroke-width="0.32">PLCR (%)</text>
<text x="373.2" y="318.25" font-size="5.8" text-anchor="end" textLength="4.5" lengthAdjust="spacingAndGlyphs" stroke-width="0.12">0</text>
<text x="373.2" y="293.95" font-size="5.8" text-anchor="end" textLength="8.1" lengthAdjust="spacingAndGlyphs" stroke-width="0.12">10</text>
<text x="373.2" y="269.65" font-size="5.8" text-anchor="end" textLength="8.9" lengthAdjust="spacingAndGlyphs" stroke-width="0.12">20</text>
<text x="373.2" y="245.35" font-size="5.8" text-anchor="end" textLength="8.9" lengthAdjust="spacingAndGlyphs" stroke-width="0.12">30</text>
<text x="373.2" y="221.05" font-size="5.8" text-anchor="end" textLength="8.9" lengthAdjust="spacingAndGlyphs" stroke-width="0.12">40</text>
<text x="373.2" y="196.75" font-size="5.8" text-anchor="end" textLength="8.9" lengthAdjust="spacingAndGlyphs" stroke-width="0.12">50</text>
<text x="373.2" y="172.45" font-size="5.8" text-anchor="end" textLength="8.9" lengthAdjust="spacingAndGlyphs" stroke-width="0.12">60</text>
<text x="394.45" y="322.7" font-size="5.9" text-anchor="middle" textLength="26.9" lengthAdjust="spacingAndGlyphs">2 Days</text>
<text x="427.15" y="322.7" font-size="5.9" text-anchor="middle" textLength="26.9" lengthAdjust="spacingAndGlyphs">7 Days</text>
<text x="459.85" y="322.7" font-size="5.9" text-anchor="middle" textLength="30.9" lengthAdjust="spacingAndGlyphs">14 Days</text>
<text x="492.55" y="322.7" font-size="5.9" text-anchor="middle" textLength="31.4" lengthAdjust="spacingAndGlyphs">30 Days</text>
<text x="400.5" y="178.85" font-size="5.2" text-anchor="start" textLength="25.9" lengthAdjust="spacingAndGlyphs" stroke-width="0.15">Control</text>
<text x="400.5" y="185.45" font-size="5.2" text-anchor="start" textLength="51.3" lengthAdjust="spacingAndGlyphs" stroke-width="0.15">Bi<tspan font-size="3.4" dy="1.1">2</tspan><tspan dy="-1.1">O</tspan><tspan font-size="3.4" dy="1.1">3</tspan><tspan dy="-1.1">/CuO/GO</tspan></text>
<text x="0" y="0" font-size="9.2" text-anchor="middle" textLength="63.63" lengthAdjust="spacingAndGlyphs" transform="translate(357.8,241.3) rotate(-90)" stroke-width="0.32">HCT (%)</text>
<text x="547.6" y="318.25" font-size="5.8" text-anchor="end" textLength="4.5" lengthAdjust="spacingAndGlyphs" stroke-width="0.12">0</text>
<text x="547.6" y="300.02" font-size="5.8" text-anchor="end" textLength="4.5" lengthAdjust="spacingAndGlyphs" stroke-width="0.12">2</text>
<text x="547.6" y="281.8" font-size="5.8" text-anchor="end" textLength="4.5" lengthAdjust="spacingAndGlyphs" stroke-width="0.12">4</text>
<text x="547.6" y="263.57" font-size="5.8" text-anchor="end" textLength="4.5" lengthAdjust="spacingAndGlyphs" stroke-width="0.12">6</text>
<text x="547.6" y="245.35" font-size="5.8" text-anchor="end" textLength="4.5" lengthAdjust="spacingAndGlyphs" stroke-width="0.12">8</text>
<text x="547.6" y="227.12" font-size="5.8" text-anchor="end" textLength="8.1" lengthAdjust="spacingAndGlyphs" stroke-width="0.12">10</text>
<text x="547.6" y="208.9" font-size="5.8" text-anchor="end" textLength="8.1" lengthAdjust="spacingAndGlyphs" stroke-width="0.12">12</text>
<text x="547.6" y="190.68" font-size="5.8" text-anchor="end" textLength="8.1" lengthAdjust="spacingAndGlyphs" stroke-width="0.12">14</text>
<text x="547.6" y="172.45" font-size="5.8" text-anchor="end" textLength="8.1" lengthAdjust="spacingAndGlyphs" stroke-width="0.12">16</text>
<text x="568.81" y="322.7" font-size="5.9" text-anchor="middle" textLength="26.9" lengthAdjust="spacingAndGlyphs">2 Days</text>
<text x="601.44" y="322.7" font-size="5.9" text-anchor="middle" textLength="26.9" lengthAdjust="spacingAndGlyphs">7 Days</text>
<text x="634.06" y="322.7" font-size="5.9" text-anchor="middle" textLength="30.9" lengthAdjust="spacingAndGlyphs">14 Days</text>
<text x="666.69" y="322.7" font-size="5.9" text-anchor="middle" textLength="31.4" lengthAdjust="spacingAndGlyphs">30 Days</text>
<text x="621.6" y="179.75" font-size="5.2" text-anchor="start" textLength="25.9" lengthAdjust="spacingAndGlyphs" stroke-width="0.15">Control</text>
<text x="621.6" y="186.35" font-size="5.2" text-anchor="start" textLength="51.3" lengthAdjust="spacingAndGlyphs" stroke-width="0.15">Bi<tspan font-size="3.4" dy="1.1">2</tspan><tspan dy="-1.1">O</tspan><tspan font-size="3.4" dy="1.1">3</tspan><tspan dy="-1.1">/CuO/GO</tspan></text>
<text x="0" y="0" font-size="9.2" text-anchor="middle" textLength="80.7" lengthAdjust="spacingAndGlyphs" transform="translate(533.2,242.65) rotate(-90)" stroke-width="0.32">HGB (g/dL)</text>
<text x="26.1" y="480.95" font-size="5.8" text-anchor="end" textLength="4.5" lengthAdjust="spacingAndGlyphs" stroke-width="0.12">0</text>
<text x="26.1" y="466.39" font-size="5.8" text-anchor="end" textLength="4.5" lengthAdjust="spacingAndGlyphs" stroke-width="0.12">2</text>
<text x="26.1" y="451.83" font-size="5.8" text-anchor="end" textLength="4.5" lengthAdjust="spacingAndGlyphs" stroke-width="0.12">4</text>
<text x="26.1" y="437.27" font-size="5.8" text-anchor="end" textLength="4.5" lengthAdjust="spacingAndGlyphs" stroke-width="0.12">6</text>
<text x="26.1" y="422.71" font-size="5.8" text-anchor="end" textLength="4.5" lengthAdjust="spacingAndGlyphs" stroke-width="0.12">8</text>
<text x="26.1" y="408.15" font-size="5.8" text-anchor="end" textLength="8.1" lengthAdjust="spacingAndGlyphs" stroke-width="0.12">10</text>
<text x="26.1" y="393.59" font-size="5.8" text-anchor="end" textLength="8.1" lengthAdjust="spacingAndGlyphs" stroke-width="0.12">12</text>
<text x="26.1" y="379.03" font-size="5.8" text-anchor="end" textLength="8.1" lengthAdjust="spacingAndGlyphs" stroke-width="0.12">14</text>
<text x="26.1" y="364.47" font-size="5.8" text-anchor="end" textLength="8.1" lengthAdjust="spacingAndGlyphs" stroke-width="0.12">16</text>
<text x="26.1" y="349.91" font-size="5.8" text-anchor="end" textLength="8.1" lengthAdjust="spacingAndGlyphs" stroke-width="0.12">18</text>
<text x="26.1" y="335.35" font-size="5.8" text-anchor="end" textLength="8.9" lengthAdjust="spacingAndGlyphs" stroke-width="0.12">20</text>
<text x="47.35" y="485.4" font-size="5.9" text-anchor="middle" textLength="26.9" lengthAdjust="spacingAndGlyphs">2 Days</text>
<text x="80.05" y="485.4" font-size="5.9" text-anchor="middle" textLength="26.9" lengthAdjust="spacingAndGlyphs">7 Days</text>
<text x="112.75" y="485.4" font-size="5.9" text-anchor="middle" textLength="30.9" lengthAdjust="spacingAndGlyphs">14 Days</text>
<text x="145.45" y="485.4" font-size="5.9" text-anchor="middle" textLength="31.4" lengthAdjust="spacingAndGlyphs">30 Days</text>
<text x="100.8" y="341.15" font-size="5.2" text-anchor="start" textLength="25.9" lengthAdjust="spacingAndGlyphs" stroke-width="0.15">Control</text>
<text x="100.8" y="347.75" font-size="5.2" text-anchor="start" textLength="51.3" lengthAdjust="spacingAndGlyphs" stroke-width="0.15">Bi<tspan font-size="3.4" dy="1.1">2</tspan><tspan dy="-1.1">O</tspan><tspan font-size="3.4" dy="1.1">3</tspan><tspan dy="-1.1">/CuO/GO</tspan></text>
<text x="0" y="0" font-size="9.2" text-anchor="middle" textLength="68.98" lengthAdjust="spacingAndGlyphs" transform="translate(10.9,400.15) rotate(-90)" stroke-width="0.32">MCH (pg)</text>
<text x="200.6" y="481.25" font-size="5.8" text-anchor="end" textLength="4.5" lengthAdjust="spacingAndGlyphs" stroke-width="0.12">0</text>
<text x="200.6" y="463" font-size="5.8" text-anchor="end" textLength="4.5" lengthAdjust="spacingAndGlyphs" stroke-width="0.12">5</text>
<text x="200.6" y="444.75" font-size="5.8" text-anchor="end" textLength="8.1" lengthAdjust="spacingAndGlyphs" stroke-width="0.12">10</text>
<text x="200.6" y="426.5" font-size="5.8" text-anchor="end" textLength="8.1" lengthAdjust="spacingAndGlyphs" stroke-width="0.12">15</text>
<text x="200.6" y="408.25" font-size="5.8" text-anchor="end" textLength="8.9" lengthAdjust="spacingAndGlyphs" stroke-width="0.12">20</text>
<text x="200.6" y="390" font-size="5.8" text-anchor="end" textLength="8.9" lengthAdjust="spacingAndGlyphs" stroke-width="0.12">25</text>
<text x="200.6" y="371.75" font-size="5.8" text-anchor="end" textLength="8.9" lengthAdjust="spacingAndGlyphs" stroke-width="0.12">30</text>
<text x="200.6" y="353.5" font-size="5.8" text-anchor="end" textLength="8.9" lengthAdjust="spacingAndGlyphs" stroke-width="0.12">35</text>
<text x="200.6" y="335.25" font-size="5.8" text-anchor="end" textLength="8.9" lengthAdjust="spacingAndGlyphs" stroke-width="0.12">40</text>
<text x="221.81" y="485.7" font-size="5.9" text-anchor="middle" textLength="26.9" lengthAdjust="spacingAndGlyphs">2 Days</text>
<text x="254.44" y="485.7" font-size="5.9" text-anchor="middle" textLength="26.9" lengthAdjust="spacingAndGlyphs">7 Days</text>
<text x="287.06" y="485.7" font-size="5.9" text-anchor="middle" textLength="30.9" lengthAdjust="spacingAndGlyphs">14 Days</text>
<text x="319.69" y="485.7" font-size="5.9" text-anchor="middle" textLength="31.4" lengthAdjust="spacingAndGlyphs">30 Days</text>
<text x="254" y="339.85" font-size="5.2" text-anchor="start" textLength="25.9" lengthAdjust="spacingAndGlyphs" stroke-width="0.15">Control</text>
<text x="254" y="346.45" font-size="5.2" text-anchor="start" textLength="51.3" lengthAdjust="spacingAndGlyphs" stroke-width="0.15">Bi<tspan font-size="3.4" dy="1.1">2</tspan><tspan dy="-1.1">O</tspan><tspan font-size="3.4" dy="1.1">3</tspan><tspan dy="-1.1">/CuO/GO</tspan></text>
<text x="0" y="0" font-size="9.2" text-anchor="middle" textLength="94.84" lengthAdjust="spacingAndGlyphs" transform="translate(182.9,401.75) rotate(-90)" stroke-width="0.32">MCHC (g/dL)</text>
<text x="375.2" y="481.45" font-size="5.8" text-anchor="end" textLength="4.5" lengthAdjust="spacingAndGlyphs" stroke-width="0.12">0</text>
<text x="375.2" y="460.56" font-size="5.8" text-anchor="end" textLength="8.1" lengthAdjust="spacingAndGlyphs" stroke-width="0.12">10</text>
<text x="375.2" y="439.68" font-size="5.8" text-anchor="end" textLength="8.9" lengthAdjust="spacingAndGlyphs" stroke-width="0.12">20</text>
<text x="375.2" y="418.79" font-size="5.8" text-anchor="end" textLength="8.9" lengthAdjust="spacingAndGlyphs" stroke-width="0.12">30</text>
<text x="375.2" y="397.91" font-size="5.8" text-anchor="end" textLength="8.9" lengthAdjust="spacingAndGlyphs" stroke-width="0.12">40</text>
<text x="375.2" y="377.02" font-size="5.8" text-anchor="end" textLength="8.9" lengthAdjust="spacingAndGlyphs" stroke-width="0.12">50</text>
<text x="375.2" y="356.14" font-size="5.8" text-anchor="end" textLength="8.9" lengthAdjust="spacingAndGlyphs" stroke-width="0.12">60</text>
<text x="375.2" y="335.25" font-size="5.8" text-anchor="end" textLength="8.9" lengthAdjust="spacingAndGlyphs" stroke-width="0.12">70</text>
<text x="395.75" y="485.9" font-size="5.9" text-anchor="middle" textLength="26.9" lengthAdjust="spacingAndGlyphs">2 Days</text>
<text x="428.45" y="485.9" font-size="5.9" text-anchor="middle" textLength="26.9" lengthAdjust="spacingAndGlyphs">7 Days</text>
<text x="461.15" y="485.9" font-size="5.9" text-anchor="middle" textLength="30.9" lengthAdjust="spacingAndGlyphs">14 Days</text>
<text x="493.85" y="485.9" font-size="5.9" text-anchor="middle" textLength="31.4" lengthAdjust="spacingAndGlyphs">30 Days</text>
<text x="401.5" y="340.15" font-size="5.2" text-anchor="start" textLength="25.9" lengthAdjust="spacingAndGlyphs" stroke-width="0.15">Control</text>
<text x="401.5" y="346.75" font-size="5.2" text-anchor="start" textLength="51.3" lengthAdjust="spacingAndGlyphs" stroke-width="0.15">Bi<tspan font-size="3.4" dy="1.1">2</tspan><tspan dy="-1.1">O</tspan><tspan font-size="3.4" dy="1.1">3</tspan><tspan dy="-1.1">/CuO/GO</tspan></text>
<text x="0" y="0" font-size="9.2" text-anchor="middle" textLength="61.61" lengthAdjust="spacingAndGlyphs" transform="translate(358.5,403) rotate(-90)" stroke-width="0.32">MCV (fl)</text>
<text x="549.1" y="481.25" font-size="5.8" text-anchor="end" textLength="4.5" lengthAdjust="spacingAndGlyphs" stroke-width="0.12">0</text>
<text x="549.1" y="452.09" font-size="5.8" text-anchor="end" textLength="4.5" lengthAdjust="spacingAndGlyphs" stroke-width="0.12">2</text>
<text x="549.1" y="422.93" font-size="5.8" text-anchor="end" textLength="4.5" lengthAdjust="spacingAndGlyphs" stroke-width="0.12">4</text>
<text x="549.1" y="393.77" font-size="5.8" text-anchor="end" textLength="4.5" lengthAdjust="spacingAndGlyphs" stroke-width="0.12">6</text>
<text x="549.1" y="364.61" font-size="5.8" text-anchor="end" textLength="4.5" lengthAdjust="spacingAndGlyphs" stroke-width="0.12">8</text>
<text x="549.1" y="335.45" font-size="5.8" text-anchor="end" textLength="8.1" lengthAdjust="spacingAndGlyphs" stroke-width="0.12">10</text>
<text x="570.36" y="485.7" font-size="5.9" text-anchor="middle" textLength="26.9" lengthAdjust="spacingAndGlyphs">2 Days</text>
<text x="603.09" y="485.7" font-size="5.9" text-anchor="middle" textLength="26.9" lengthAdjust="spacingAndGlyphs">7 Days</text>
<text x="635.81" y="485.7" font-size="5.9" text-anchor="middle" textLength="30.9" lengthAdjust="spacingAndGlyphs">14 Days</text>
<text x="668.54" y="485.7" font-size="5.9" text-anchor="middle" textLength="31.4" lengthAdjust="spacingAndGlyphs">30 Days</text>
<text x="627.8" y="341.45" font-size="5.2" text-anchor="start" textLength="25.9" lengthAdjust="spacingAndGlyphs" stroke-width="0.15">Control</text>
<text x="627.8" y="348.05" font-size="5.2" text-anchor="start" textLength="51.3" lengthAdjust="spacingAndGlyphs" stroke-width="0.15">Bi<tspan font-size="3.4" dy="1.1">2</tspan><tspan dy="-1.1">O</tspan><tspan font-size="3.4" dy="1.1">3</tspan><tspan dy="-1.1">/CuO/GO</tspan></text>
<text x="0" y="0" font-size="9.2" text-anchor="middle" textLength="66.05" lengthAdjust="spacingAndGlyphs" transform="translate(536.8,401.9) rotate(-90)" stroke-width="0.32">MPV (fL)</text>
<text x="26.1" y="647.45" font-size="5.8" text-anchor="end" textLength="4.5" lengthAdjust="spacingAndGlyphs" stroke-width="0.12">0</text>
<text x="26.1" y="618.33" font-size="5.8" text-anchor="end" textLength="4.5" lengthAdjust="spacingAndGlyphs" stroke-width="0.12">5</text>
<text x="26.1" y="589.21" font-size="5.8" text-anchor="end" textLength="8.1" lengthAdjust="spacingAndGlyphs" stroke-width="0.12">10</text>
<text x="26.1" y="560.09" font-size="5.8" text-anchor="end" textLength="8.1" lengthAdjust="spacingAndGlyphs" stroke-width="0.12">15</text>
<text x="26.1" y="530.97" font-size="5.8" text-anchor="end" textLength="8.9" lengthAdjust="spacingAndGlyphs" stroke-width="0.12">20</text>
<text x="26.1" y="501.85" font-size="5.8" text-anchor="end" textLength="8.9" lengthAdjust="spacingAndGlyphs" stroke-width="0.12">25</text>
<text x="47.35" y="651.9" font-size="5.9" text-anchor="middle" textLength="26.9" lengthAdjust="spacingAndGlyphs">2 Days</text>
<text x="80.05" y="651.9" font-size="5.9" text-anchor="middle" textLength="26.9" lengthAdjust="spacingAndGlyphs">7 Days</text>
<text x="112.75" y="651.9" font-size="5.9" text-anchor="middle" textLength="30.9" lengthAdjust="spacingAndGlyphs">14 Days</text>
<text x="145.45" y="651.9" font-size="5.9" text-anchor="middle" textLength="31.4" lengthAdjust="spacingAndGlyphs">30 Days</text>
<text x="100.8" y="512.25" font-size="5.2" text-anchor="start" textLength="25.9" lengthAdjust="spacingAndGlyphs" stroke-width="0.15">Control</text>
<text x="100.8" y="518.85" font-size="5.2" text-anchor="start" textLength="51.3" lengthAdjust="spacingAndGlyphs" stroke-width="0.15">Bi<tspan font-size="3.4" dy="1.1">2</tspan><tspan dy="-1.1">O</tspan><tspan font-size="3.4" dy="1.1">3</tspan><tspan dy="-1.1">/CuO/GO</tspan></text>
<text x="0" y="0" font-size="9.2" text-anchor="middle" textLength="62.42" lengthAdjust="spacingAndGlyphs" transform="translate(10.9,566.8) rotate(-90)" stroke-width="0.32">PDW(%)</text>
<text x="200.6" y="647.45" font-size="5.8" text-anchor="end" textLength="4.5" lengthAdjust="spacingAndGlyphs" stroke-width="0.12">0</text>
<text x="200.6" y="626.65" font-size="5.8" text-anchor="end" textLength="4.5" lengthAdjust="spacingAndGlyphs" stroke-width="0.12">5</text>
<text x="200.6" y="605.85" font-size="5.8" text-anchor="end" textLength="8.1" lengthAdjust="spacingAndGlyphs" stroke-width="0.12">10</text>
<text x="200.6" y="585.05" font-size="5.8" text-anchor="end" textLength="8.1" lengthAdjust="spacingAndGlyphs" stroke-width="0.12">15</text>
<text x="200.6" y="564.25" font-size="5.8" text-anchor="end" textLength="8.9" lengthAdjust="spacingAndGlyphs" stroke-width="0.12">20</text>
<text x="200.6" y="543.45" font-size="5.8" text-anchor="end" textLength="8.9" lengthAdjust="spacingAndGlyphs" stroke-width="0.12">25</text>
<text x="200.6" y="522.65" font-size="5.8" text-anchor="end" textLength="8.9" lengthAdjust="spacingAndGlyphs" stroke-width="0.12">30</text>
<text x="200.6" y="501.85" font-size="5.8" text-anchor="end" textLength="8.9" lengthAdjust="spacingAndGlyphs" stroke-width="0.12">35</text>
<text x="221.82" y="651.9" font-size="5.9" text-anchor="middle" textLength="26.9" lengthAdjust="spacingAndGlyphs">2 Days</text>
<text x="254.47" y="651.9" font-size="5.9" text-anchor="middle" textLength="26.9" lengthAdjust="spacingAndGlyphs">7 Days</text>
<text x="287.12" y="651.9" font-size="5.9" text-anchor="middle" textLength="30.9" lengthAdjust="spacingAndGlyphs">14 Days</text>
<text x="319.77" y="651.9" font-size="5.9" text-anchor="middle" textLength="31.4" lengthAdjust="spacingAndGlyphs">30 Days</text>
<text x="276.7" y="512.05" font-size="5.2" text-anchor="start" textLength="25.9" lengthAdjust="spacingAndGlyphs" stroke-width="0.15">Control</text>
<text x="276.7" y="518.65" font-size="5.2" text-anchor="start" textLength="51.3" lengthAdjust="spacingAndGlyphs" stroke-width="0.15">Bi<tspan font-size="3.4" dy="1.1">2</tspan><tspan dy="-1.1">O</tspan><tspan font-size="3.4" dy="1.1">3</tspan><tspan dy="-1.1">/CuO/GO</tspan></text>
<text x="0" y="0" font-size="9.2" text-anchor="middle" textLength="79.69" lengthAdjust="spacingAndGlyphs" transform="translate(184.5,569.25) rotate(-90)" stroke-width="0.32">RDWC (%)</text>
<text x="374.8" y="647.45" font-size="5.8" text-anchor="end" textLength="4.5" lengthAdjust="spacingAndGlyphs" stroke-width="0.12">0</text>
<text x="374.8" y="623.18" font-size="5.8" text-anchor="end" textLength="8.1" lengthAdjust="spacingAndGlyphs" stroke-width="0.12">10</text>
<text x="374.8" y="598.92" font-size="5.8" text-anchor="end" textLength="8.9" lengthAdjust="spacingAndGlyphs" stroke-width="0.12">20</text>
<text x="374.8" y="574.65" font-size="5.8" text-anchor="end" textLength="8.9" lengthAdjust="spacingAndGlyphs" stroke-width="0.12">30</text>
<text x="374.8" y="550.38" font-size="5.8" text-anchor="end" textLength="8.9" lengthAdjust="spacingAndGlyphs" stroke-width="0.12">40</text>
<text x="374.8" y="526.12" font-size="5.8" text-anchor="end" textLength="8.9" lengthAdjust="spacingAndGlyphs" stroke-width="0.12">50</text>
<text x="374.8" y="501.85" font-size="5.8" text-anchor="end" textLength="8.9" lengthAdjust="spacingAndGlyphs" stroke-width="0.12">60</text>
<text x="395.6" y="651.9" font-size="5.9" text-anchor="middle" textLength="26.9" lengthAdjust="spacingAndGlyphs">2 Days</text>
<text x="428.4" y="651.9" font-size="5.9" text-anchor="middle" textLength="26.9" lengthAdjust="spacingAndGlyphs">7 Days</text>
<text x="458.7" y="651.9" font-size="5.9" text-anchor="middle" textLength="30.9" lengthAdjust="spacingAndGlyphs">14 Days</text>
<text x="494" y="651.9" font-size="5.9" text-anchor="middle" textLength="31.4" lengthAdjust="spacingAndGlyphs">30 Days</text>
<text x="448.7" y="512.85" font-size="5.2" text-anchor="start" textLength="25.9" lengthAdjust="spacingAndGlyphs" stroke-width="0.15">Control</text>
<text x="448.7" y="519.45" font-size="5.2" text-anchor="start" textLength="51.3" lengthAdjust="spacingAndGlyphs" stroke-width="0.15">Bi<tspan font-size="3.4" dy="1.1">2</tspan><tspan dy="-1.1">O</tspan><tspan font-size="3.4" dy="1.1">3</tspan><tspan dy="-1.1">/CuO/GO</tspan></text>
<text x="0" y="0" font-size="9.2" text-anchor="middle" textLength="74.64" lengthAdjust="spacingAndGlyphs" transform="translate(356.9,567.15) rotate(-90)" stroke-width="0.32">RDWS (fL)</text>
</g>
</svg>
</body></html>
